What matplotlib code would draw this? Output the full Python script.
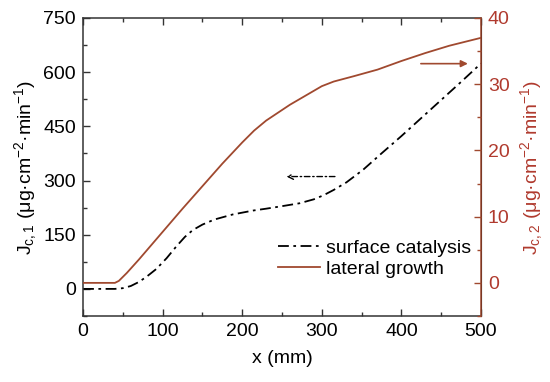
import matplotlib
matplotlib.use('Agg')
import matplotlib.pyplot as plt
from matplotlib.ticker import MultipleLocator

plt.rcParams['font.family'] = ['Liberation Sans', 'DejaVu Sans']
plt.rcParams['mathtext.fontset'] = 'custom'
plt.rcParams['mathtext.rm'] = 'Liberation Sans'
plt.rcParams['mathtext.it'] = 'Liberation Sans:italic'
plt.rcParams['mathtext.default'] = 'regular'

# surface catalysis (left axis)
x_cat = [0, 20, 40, 50, 60, 70, 80, 92, 105, 117, 128, 138, 150, 165, 188, 214, 230, 250, 272, 290, 302, 315, 331, 352, 375, 400, 423, 450, 475, 500]
j_cat = [0, 0, 0, 2, 8, 19, 34, 55, 85, 117, 144, 163, 178, 192, 206, 217, 222, 229, 237, 248, 259, 274, 295, 330, 375, 423, 469, 523, 573, 624]

# lateral growth (right axis)
x_lat = [0, 20, 40, 45, 55, 70, 85, 100, 125, 150, 175, 200, 215, 230, 245, 260, 280, 300, 315, 340, 370, 400, 430, 460, 500]
j_lat = [0, 0, 0, 0.3, 1.5, 3.5, 5.6, 7.7, 11.2, 14.6, 18.0, 21.2, 23.0, 24.5, 25.7, 26.9, 28.3, 29.7, 30.4, 31.2, 32.2, 33.5, 34.7, 35.8, 37.0]

brown = '#a0492f'
red_txt = '#b03a2e'
dark = '#333333'

fig = plt.figure(figsize=(5.5, 3.82), dpi=100)
ax = fig.add_axes([0.151, 0.1728, 0.7235, 0.7802])
ax2 = ax.twinx()

l1, = ax.plot(x_cat, j_cat, color='black', lw=1.3, ls=(0, (6, 2.5, 1.5, 2.5)), label='surface catalysis')
l2, = ax2.plot(x_lat, j_lat, color=brown, lw=1.3, label='lateral growth')

ax.set_xlim(0, 500)
ax.set_ylim(-75, 750)
ax2.set_ylim(-5, 40)

ax.xaxis.set_major_locator(MultipleLocator(100))
ax.xaxis.set_minor_locator(MultipleLocator(50))
ax.yaxis.set_major_locator(MultipleLocator(150))
ax.yaxis.set_minor_locator(MultipleLocator(75))
ax2.yaxis.set_major_locator(MultipleLocator(10))
ax2.yaxis.set_minor_locator(MultipleLocator(5))

for s in ['left', 'top', 'bottom']:
    ax.spines[s].set_color(dark)
    ax.spines[s].set_linewidth(1.1)
ax2.spines['right'].set_color(brown)
ax2.spines['right'].set_linewidth(1.1)
for s in ['left', 'top', 'bottom']:
    ax2.spines[s].set_visible(False)

ax.tick_params(axis='both', which='both', direction='in', top=True, right=False,
               labelsize=14, colors=dark, width=1.0)
ax.tick_params(which='major', length=5)
ax.tick_params(which='minor', length=3)
ax.tick_params(axis='both', labelcolor='black', pad=5)
ax2.tick_params(axis='y', which='both', direction='in', color=brown,
                labelcolor=red_txt, labelsize=14, width=1.0, pad=5)
ax2.tick_params(which='major', length=5)
ax2.tick_params(which='minor', length=3)

ax.set_xlabel('x (mm)', fontsize=14, labelpad=7)
ax.set_ylabel(r'J$_{c,1}$ (μg·cm$^{-2}$·min$^{-1}$)', fontsize=14, labelpad=3)
ax2.set_ylabel(r'J$_{c,2}$ (μg·cm$^{-2}$·min$^{-1}$)', fontsize=14, color=red_txt, labelpad=6)

# arrows pointing to each axis
ax.annotate('', xy=(252, 311), xytext=(320, 311),
            arrowprops=dict(arrowstyle='->', color='black', lw=1.0, ls=(0, (4, 2, 1, 2))))
ax2.annotate('', xy=(487, 33.1), xytext=(421, 33.1),
             arrowprops=dict(arrowstyle='-|>', color=brown, lw=1.2, mutation_scale=10))

ax.legend(handles=[l1, l2], loc='lower right', bbox_to_anchor=(1.02, 0.07),
          frameon=False, fontsize=14, handlelength=2.2, handletextpad=0.3,
          labelspacing=0.15)

fig.savefig('out.png', dpi=100)
